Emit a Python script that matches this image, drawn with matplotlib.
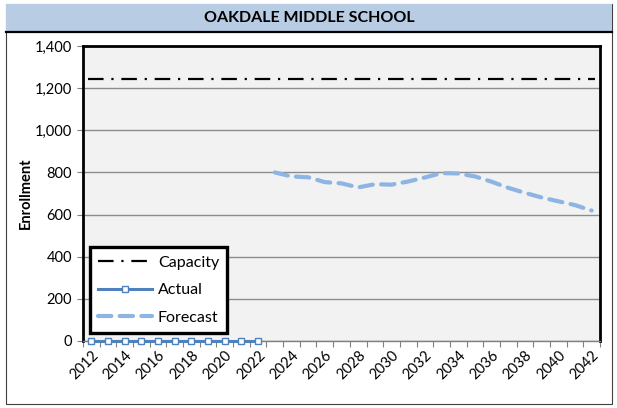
import matplotlib
matplotlib.use("Agg")
import matplotlib.pyplot as plt
from matplotlib.patches import Rectangle
from matplotlib.lines import Line2D

plt.rcParams['font.family'] = ['Lato', 'DejaVu Sans']

# Enrollment data
years = list(range(2012, 2043))
capacity = 1245
actual_years = list(range(2012, 2023))
actual_values = [0, 0, 0, 0, 0, 0, 0, 0, 0, 0, 0]
forecast_years = list(range(2023, 2043))
forecast_values = [800, 781, 777, 754, 748, 729, 744, 742, 757, 776,
                   797, 795, 781, 756, 727, 703, 681, 663, 645, 619]
y_ticks = [0, 200, 400, 600, 800, 1000, 1200, 1400]
title = "OAKDALE MIDDLE SCHOOL"

W, H = 617, 408
fig = plt.figure(figsize=(W / 100, H / 100), dpi=100)

# Outer frame and title band
fig.patches.append(Rectangle((6 / W, 1 - 404 / H), 606 / W, 400 / H,
                             transform=fig.transFigure, facecolor='white',
                             edgecolor='#404040', lw=0.8, zorder=-10))
fig.patches.append(Rectangle((6 / W, 1 - 31 / H), 606 / W, 27 / H,
                             transform=fig.transFigure, facecolor='#B8CCE4',
                             edgecolor='none', zorder=-5))
fig.lines.append(Line2D([6 / W, 612 / W], [1 - 31.5 / H, 1 - 31.5 / H],
                        transform=fig.transFigure, color='black', lw=1.6, zorder=2))
fig.text(309 / W, 1 - 18 / H, title, ha='center', va='center',
         fontsize=11.5, fontweight='bold', zorder=3)

left, right, top, bottom = 83, 600, 46, 341
ax = fig.add_axes([left / W, 1 - bottom / H, (right - left) / W, (bottom - top) / H])
ax.set_facecolor('#F2F2F2')

idx = {y: i for i, y in enumerate(years)}
ax.set_xlim(-0.5, len(years) - 0.5)
ax.set_ylim(0, 1400)
ax.set_yticks(y_ticks)
ax.set_yticklabels([f"{v:,}" for v in y_ticks], fontsize=10.5)
ax.yaxis.grid(True, color='#8C8C8C', lw=1.0)
ax.set_axisbelow(True)

# Category boundaries carry the tick marks, labels sit at every other category
ax.set_xticks([i - 0.5 for i in range(len(years) + 1)])
ax.set_xticklabels([])
ax.tick_params(axis='x', which='major', length=4, color='#808080', direction='out')
ax.set_xticks([idx[y] for y in years if (y - 2012) % 2 == 0], minor=True)
ax.set_xticklabels([str(y) for y in years if (y - 2012) % 2 == 0], minor=True,
                   rotation=45, ha='right', rotation_mode='anchor', fontsize=10.5)
ax.tick_params(axis='x', which='minor', length=0, pad=5)
ax.tick_params(axis='y', length=4, color='#808080', pad=4)

ax.set_ylabel("Enrollment", fontsize=10.5, fontweight='bold', labelpad=1)

ax.plot([-0.5 + 0.3, len(years) - 0.5 - 0.3], [capacity, capacity], color='black',
        lw=1.6, dashes=(7, 3.5, 1, 3.5), label='Capacity', zorder=3)
ax.plot([idx[y] for y in actual_years], actual_values, color='#4F81BD', lw=2.2,
        marker='s', markersize=5, markerfacecolor='white', markeredgecolor='#4F81BD',
        markeredgewidth=1.0, label='Actual', zorder=4, clip_on=False)
ax.plot([idx[y] for y in forecast_years], forecast_values, color='#8DB4E2', lw=3,
        dashes=(3.2, 2.0), dash_capstyle='round', label='Forecast', zorder=3)

for s in ['top', 'right', 'left']:
    ax.spines[s].set_color('black')
    ax.spines[s].set_linewidth(2)
ax.spines['bottom'].set_color('#808080')
ax.spines['bottom'].set_linewidth(1)

leg = ax.legend(loc='lower left', bbox_to_anchor=(0.0135, 0.027), borderaxespad=0,
                fancybox=False, framealpha=1, facecolor='white', edgecolor='black',
                fontsize=11.5, handlelength=3.4, handletextpad=0.35, labelspacing=0.85,
                borderpad=0.5)
leg.get_frame().set_linewidth(2.4)

fig.savefig("out.png", dpi=100)
